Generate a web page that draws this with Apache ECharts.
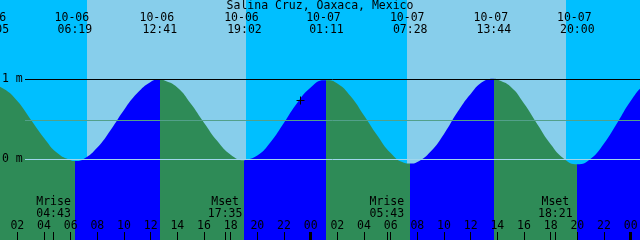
<!DOCTYPE html>
<html>
<head>
<meta charset="utf-8">
<script src="https://cdn.jsdelivr.net/npm/echarts@6/dist/echarts.min.js"></script>
<style>
html,body{margin:0;padding:0;background:#fff;}
#chart{width:640px;height:240px;}
</style>
</head>
<body>
<div id="chart"></div>
<script>
// ---------------- data ----------------
const chartTitle = 'Salina Cruz, Oaxaca, Mexico';
// hourly readings of the tide curve, hours since 10-06 00:00, metres
const hours = [0,1,2,3,4,5,6,7,8,9,10,11,12,13,14,15,16,17,18,19,20,21,22,23,24,25,
  26,27,28,29,30,31,32,33,34,35,36,37,38,39,40,41,42,43,45,46,47,48,49,50];
const levels = [0.93,0.88,0.73,0.50,0.27,0.08,-0.01,0.01,0.15,0.37,0.62,0.83,0.97,0.99,0.90,0.70,0.46,0.23,0.06,-0.01,0.05,0.22,0.46,0.71,0.90,0.99,
  0.95,0.79,0.55,0.30,0.08,-0.04,-0.03,0.10,0.32,0.59,0.82,0.98,1.00,0.91,0.70,0.44,0.19,0.01,0.01,0.20,0.46,0.73,0.93,1.03];
// high / low tides
const extremeTimes = ['10-06 00:05','10-06 06:19','10-06 12:41','10-06 19:02','10-07 01:11','10-07 07:28','10-07 13:44','10-07 20:00','10-08 02:12'];
const extremeLevels = [0.93,-0.02,1.00,-0.01,0.99,-0.05,1.01,-0.06,1.03];
const extremeTypes = ['H','L','H','L','H','L','H','L','H'];
// sun and moon
const sunriseTimes = ['10-06 07:13','10-07 07:14'];
const sunsetTimes = ['10-06 19:09','10-07 19:09'];
const moonTimes = ['10-06 04:43','10-06 17:35','10-07 05:43','10-07 18:21'];
const moonEvents = ['Mrise','Mset','Mrise','Mset'];
// hour tick labels along the bottom
const tickHours = [2,4,6,8,10,12,14,16,18,20,22,24,26,28,30,32,34,36,38,40,42,44,46,48];
const tickLabels = ['02','04','06','08','10','12','14','16','18','20','22','00',
  '02','04','06','08','10','12','14','16','18','20','22','00'];
// datum lines
const labelledLevels = [1, 0];
const labelledLevelText = ['1 m', '0 m'];
const meanLevel = 0.49;
// "now" marker
const nowTime = '10-06 23:12';
const nowLevel = 0.74;

// ---------------- helpers / styles ----------------
const xMin = 0, xMax = 49.5;
const yMin = -1.00625, yMax = 1.99375;
const FONT = '11.5px "DejaVu Sans Mono", monospace';
const C = {night:'#00BFFF', day:'#87CEEB', rising:'#0000FF', falling:'#2E8B57',
  one:'#000000', zero:'#A0D6EC', mean:'#52A08A', text:'#000000'};

function toHours(s){
  const parts = s.split(' ');
  const day = +parts[0].split('-')[1];
  const hm = parts[1].split(':').map(Number);
  return (day - 6) * 24 + hm[0] + hm[1] / 60;
}
function hhmm(s){ return s.split(' ')[1]; }
function mmdd(s){ return s.split(' ')[0]; }

// tide curve
let pts = hours.map((h,i)=>[h, levels[i]]);
extremeTimes.forEach((s,i)=>pts.push([toHours(s), extremeLevels[i]]));
pts.sort((a,b)=>a[0]-b[0]);
pts = pts.filter((p,i,a)=> i===0 || Math.abs(p[0]-a[i-1][0])>1e-6);

// rising/falling pieces
const extH = extremeTimes.map(toHours);
const pieces = [];
extH.forEach((t,i)=>{
  const lo = i===0 ? -100 : extH[i-1];
  pieces.push({gte: lo, lt: t, color: extremeTypes[i]==='H' ? C.rising : C.falling});
});
pieces.push({gte: extH[extH.length-1], lt: 100,
  color: extremeTypes[extremeTypes.length-1]==='H' ? C.falling : C.rising});

// day / night bands
const sunEv = sunriseTimes.map(s=>[toHours(s),1]).concat(sunsetTimes.map(s=>[toHours(s),0]))
  .sort((a,b)=>a[0]-b[0]);
const bands = [];
let bStart = xMin;
sunEv.forEach(e=>{ bands.push([bStart, e[0], e[1]===1 ? 0 : 1]); bStart = e[0]; });
bands.push([bStart, xMax, sunEv[sunEv.length-1][1]===1 ? 1 : 0]);

const moonH = moonTimes.map(toHours);

const chart = echarts.init(document.getElementById('chart'), null, {renderer:'canvas'});

const axisBase = {
  type:'value', min:xMin, max:xMax, position:'bottom', gridIndex:0, z:10,
  axisLine:{show:false, onZero:false}, splitLine:{show:false}
};

function txt(x, y, s){
  return {type:'text', x:x, y:y, style:{text:s, font:FONT, fill:C.text, align:'center', verticalAlign:'middle'}};
}

chart.setOption({
  animation:false,
  title:{text:chartTitle, left:'center', top:0, padding:0,
    textStyle:{fontFamily:'"DejaVu Sans Mono", monospace', fontSize:11.5, fontWeight:'normal', color:C.text}},
  grid:{left:-9.3333, top:0, width:660, height:240, containLabel:false, outerBoundsMode:'none'},
  xAxis:[
    Object.assign({}, axisBase, {interval:2,
      axisTick:{show:true, inside:true, length:8, lineStyle:{color:'#000', width:1}},
      axisLabel:{show:false}}),
    Object.assign({}, axisBase, {interval:24,
      axisTick:{show:true, inside:true, length:8, lineStyle:{color:'#000', width:3}},
      axisLabel:{show:false}}),
    Object.assign({}, axisBase, {
      axisTick:{show:true, inside:true, length:8, customValues:moonH, lineStyle:{color:'#000', width:1}},
      axisLabel:{show:false, customValues:moonH}})
  ],
  yAxis:{type:'value', min:yMin, max:yMax, show:false},
  visualMap:{type:'piecewise', show:false, dimension:0, seriesIndex:1, pieces:pieces},
  series:[
    { // day / night background
      type:'custom', z:1, data:bands, silent:true,
      renderItem:(params, api)=>{
        const cs = params.coordSys;
        const x0 = Math.round(api.coord([api.value(0), 0])[0]);
        const x1 = Math.round(api.coord([api.value(1), 0])[0]);
        return {type:'rect', shape:{x:x0, y:cs.y, width:x1-x0, height:cs.height},
          style:{fill: api.value(2) ? C.day : C.night}};
      }
    },
    { // tide curve
      type:'line', z:2, data:pts, showSymbol:false, smooth:0.5, silent:true,
      lineStyle:{width:0},
      areaStyle:{origin:'start', opacity:1}
    },
    { // datum lines and labels
      type:'custom', z:3, silent:true,
      data:[[meanLevel, -1], [labelledLevels[1], 1], [labelledLevels[0], 0]],
      renderItem:(params, api)=>{
        const y = Math.round(api.coord([0, api.value(0)])[1] - 0.5) + 0.5;
        const li = api.value(1);
        const col = li < 0 ? C.mean : (labelledLevels[li] === 1 ? C.one : C.zero);
        const children = [{type:'line', shape:{x1:25, y1:y, x2:640, y2:y},
          style:{stroke:col, lineWidth:1}}];
        if (li >= 0) children.push({type:'text', x:2, y:y,
          style:{text:labelledLevelText[li], font:FONT, fill:C.text, align:'left', verticalAlign:'middle'}});
        return {type:'group', children};
      }
    },
    { // tide time labels
      type:'custom', z:4, silent:true,
      data:extH.map((t)=>[t, 0]),
      renderItem:(params, api)=>{
        const i = params.dataIndex;
        const x = api.coord([api.value(0), 0])[0];
        return {type:'group', children:[
          txt(x-3, 18, mmdd(extremeTimes[i])),
          txt(x, 30, hhmm(extremeTimes[i]))
        ]};
      }
    },
    { // moon labels
      type:'custom', z:4, silent:true,
      data:moonH.map((t)=>[t, 0]),
      renderItem:(params, api)=>{
        const i = params.dataIndex;
        const x = api.coord([api.value(0), 0])[0];
        return {type:'group', children:[
          txt(x, 202, moonEvents[i]),
          txt(x, 214, hhmm(moonTimes[i]))
        ]};
      }
    },
    { // hour labels
      type:'custom', z:4, silent:true,
      data:tickHours.map((t)=>[t, 0]),
      renderItem:(params, api)=>{
        const x = api.coord([api.value(0), 0])[0];
        return txt(x, 226, tickLabels[params.dataIndex]);
      }
    },
    { // now marker
      type:'custom', z:5, silent:true,
      data:[[toHours(nowTime), nowLevel]],
      renderItem:(params, api)=>{
        const p = api.coord([api.value(0), api.value(1)]);
        const cx = Math.round(p[0]) + 0.5, cy = Math.round(p[1]) + 0.5;
        return {type:'group', children:[
          {type:'line', shape:{x1:cx-4, y1:cy, x2:cx+4, y2:cy}, style:{stroke:'#000', lineWidth:1}},
          {type:'line', shape:{x1:cx, y1:cy-4, x2:cx, y2:cy+4}, style:{stroke:'#000', lineWidth:1}}
        ]};
      }
    }
  ]
});
</script>
</body>
</html>
